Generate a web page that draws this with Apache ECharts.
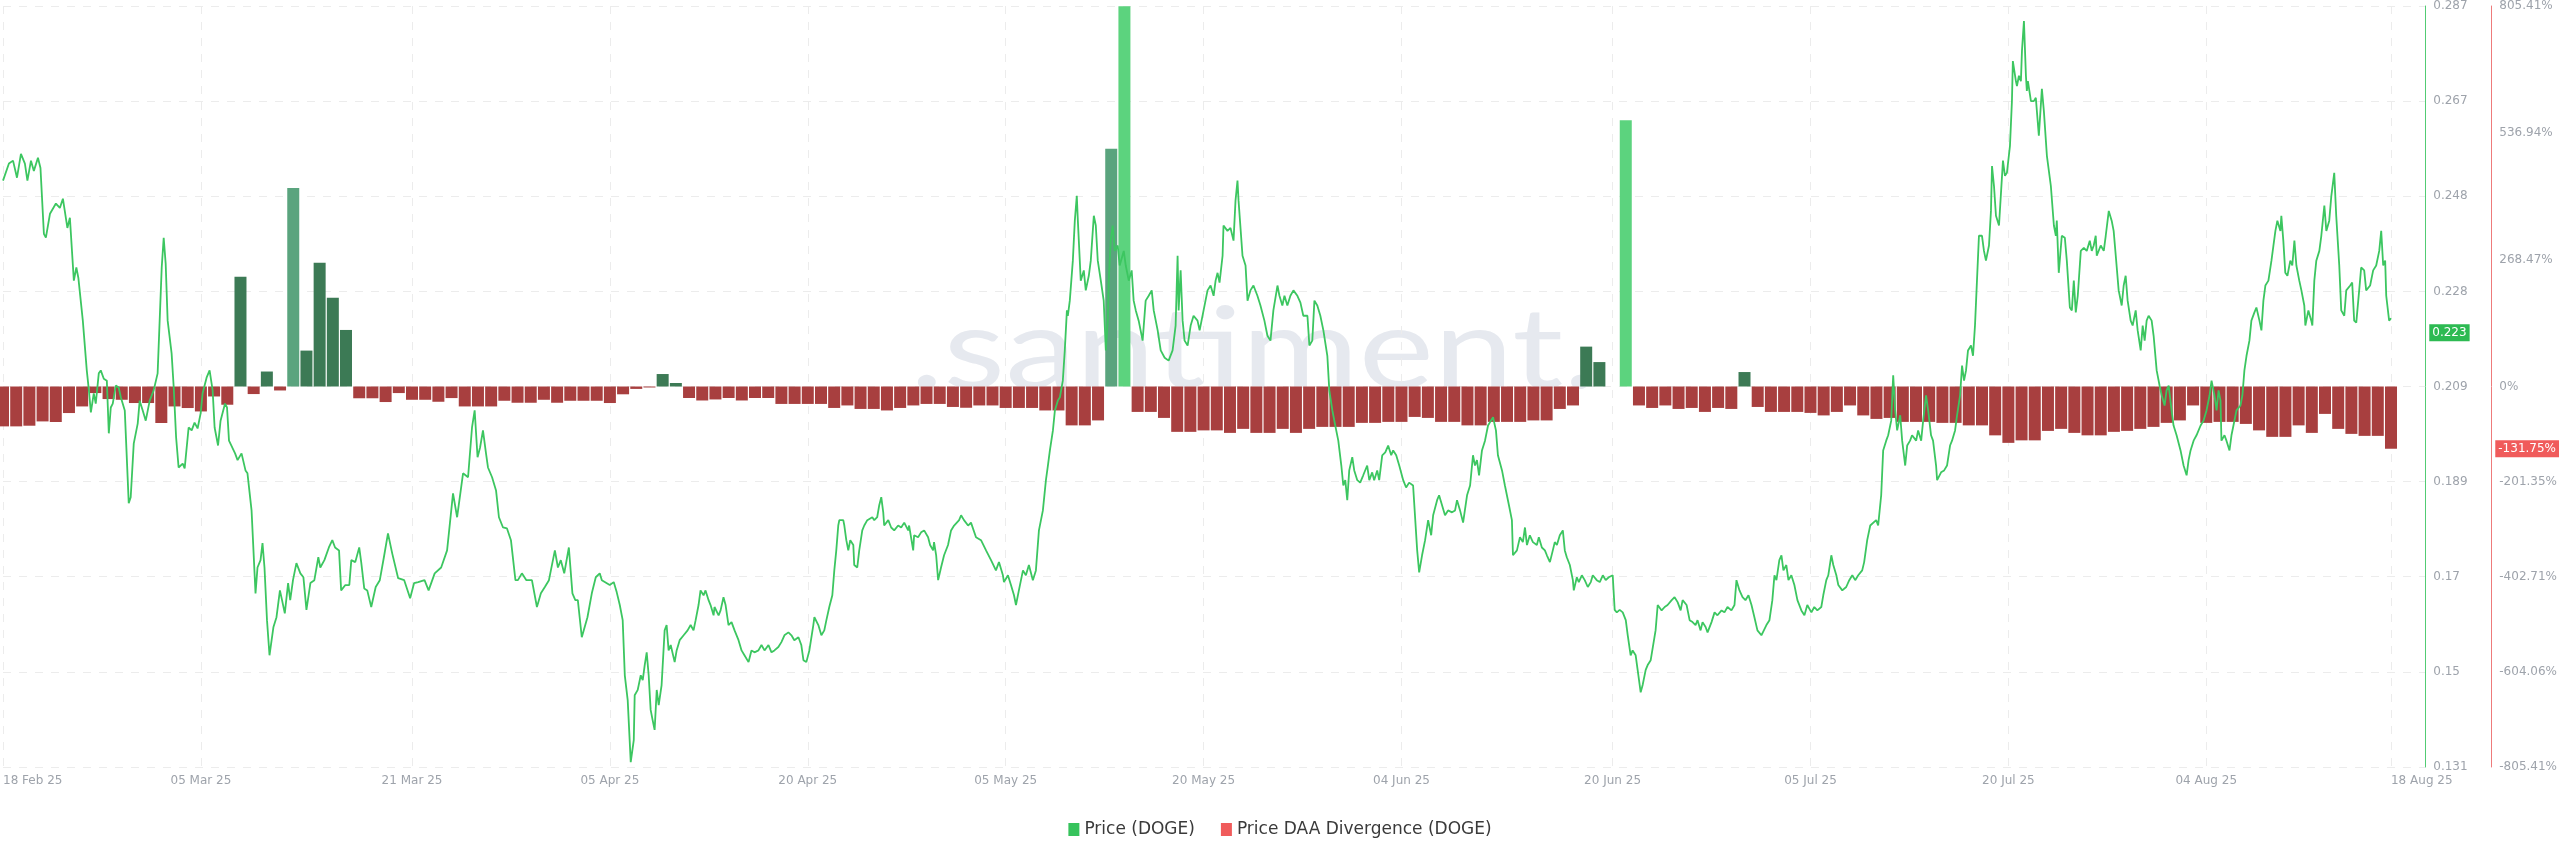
<!DOCTYPE html>
<html>
<head>
<meta charset="utf-8">
<script src="https://cdn.jsdelivr.net/npm/echarts@6/dist/echarts.min.js"></script>
<style>
html,body{margin:0;padding:0;background:#fff;}
#chart{width:2560px;height:853px;}
</style>
</head>
<body>
<div id="chart"></div>
<script>
// ---------- DATA ----------
const startDate = '2025-02-18';
const xLabelDates = ['2025-02-18','2025-03-05','2025-03-21','2025-04-05','2025-04-20','2025-05-05','2025-05-20','2025-06-04','2025-06-20','2025-07-05','2025-07-20','2025-08-04','2025-08-18'];

const priceTickValues = [0.131,0.1505,0.17,0.1895,0.209,0.2285,0.248,0.2675,0.287];
const priceTickLabels = ['0.131','0.15','0.17','0.189','0.209','0.228','0.248','0.267','0.287'];
const divTickValues = [-805.41,-604.06,-402.71,-201.35,0,268.47,536.94,805.41];
const divTickLabels = ['-805.41%','-604.06%','-402.71%','-201.35%','0%','268.47%','536.94%','805.41%'];

// Price (DOGE): days since 18 Feb 2025 and price in USD
const priceDays = [
0,0.45,0.76,1.06,1.36,1.66,1.85,2.12,2.34,2.65,
2.84,3.10,3.25,3.56,4.01,4.31,4.54,4.88,5.07,5.37,
5.56,5.71,6.05,6.35,6.51,6.66,6.88,7.03,7.26,7.41,
7.64,7.87,8.02,8.17,8.32,8.55,8.77,8.93,9.23,9.53,
9.68,9.91,10.21,10.36,10.59,10.82,11.12,11.42,11.72,12.03,
12.18,12.33,12.48,12.78,12.94,13.12,13.31,13.62,13.77,14.07,
14.30,14.52,14.75,14.98,15.13,15.43,15.66,15.89,16.04,16.30,
16.49,16.83,16.98,17.13,17.59,17.78,18.08,18.38,18.53,18.84,
19.14,19.29,19.52,19.67,19.82,20.01,20.20,20.50,20.73,20.99,
21.15,21.36,21.61,21.77,21.98,22.24,22.54,22.77,23.00,23.30,
23.60,23.90,24.05,24.36,24.70,24.96,25.17,25.47,25.63,25.95,
26.25,26.40,26.70,27.00,27.16,27.38,27.61,27.91,28.25,28.56,
28.87,29.18,29.50,29.95,30.41,30.86,31.16,31.47,31.95,32.26,
32.72,33.21,33.66,34.11,34.42,34.87,35.25,35.55,35.75,35.97,
36.16,36.38,36.61,36.76,37.07,37.37,37.59,37.90,38.20,38.50,
38.84,39.03,39.33,39.67,40.09,40.47,40.77,41.07,41.38,41.83,
42.06,42.28,42.54,42.89,43.16,43.38,43.57,43.87,44.30,44.63,
44.93,45.23,45.39,45.99,46.29,46.52,46.75,46.97,47.13,47.35,
47.58,47.81,47.88,48.11,48.34,48.49,48.64,48.79,48.94,49.09,
49.24,49.39,49.55,49.70,49.92,50.15,50.30,50.45,50.61,50.91,
51.06,51.29,51.59,51.89,52.12,52.34,52.50,52.72,52.87,53.10,
53.25,53.48,53.63,53.86,53.93,54.24,54.39,54.61,54.77,54.99,
55.22,55.45,55.75,55.98,56.20,56.51,56.73,56.96,57.26,57.49,
57.72,58.02,58.25,58.47,58.77,59.00,59.23,59.53,59.76,59.98,
60.29,60.51,60.67,60.89,61.12,61.42,61.50,61.80,62.03,62.25,
62.41,62.63,62.86,63.01,63.16,63.31,63.39,63.69,63.77,63.92,
64.07,64.22,64.45,64.52,64.75,64.90,65.13,65.28,65.51,65.89,
66.04,66.26,66.41,66.57,66.72,66.79,67.10,67.32,67.55,67.85,
68.08,68.31,68.61,68.68,68.99,69.06,69.36,69.59,69.82,70.12,
70.27,70.50,70.57,70.73,70.88,71.10,71.33,71.63,71.86,72.09,
72.47,72.62,72.84,73.15,73.37,73.75,74.13,74.51,74.89,75.26,
75.49,75.79,75.87,76.17,76.40,76.63,76.78,77.00,77.31,77.53,
77.76,78.06,78.29,78.52,78.82,79.05,79.20,79.35,79.58,79.73,
79.95,80.11,80.33,80.48,80.64,80.71,80.86,81.09,81.24,81.39,
81.47,81.69,81.92,82.07,82.30,82.45,82.68,82.83,82.98,83.21,
83.43,83.59,83.74,83.81,83.96,84.11,84.27,84.49,84.64,84.95,
85.10,85.33,85.55,85.70,85.86,86.08,86.38,86.61,86.84,87.07,
87.22,87.52,87.75,88.05,88.35,88.65,88.88,89.03,89.11,89.26,
89.41,89.56,89.79,90.02,90.24,90.54,90.70,91.00,91.30,91.53,
91.76,91.91,92.06,92.21,92.44,92.51,92.81,93.04,93.27,93.42,
93.57,93.65,93.95,94.18,94.33,94.55,94.78,95.08,95.31,95.61,
95.84,96.07,96.29,96.60,96.75,96.97,97.13,97.35,97.58,97.81,
98.11,98.34,98.56,98.87,99.02,99.24,99.40,99.62,99.85,100.08,
100.38,100.53,100.76,100.98,101.21,101.44,101.59,101.74,101.89,102.04,
102.27,102.42,102.65,102.87,103.10,103.40,103.56,103.78,103.93,104.16,
104.31,104.54,104.77,104.99,105.22,105.37,105.60,105.83,106.13,106.35,
106.58,106.88,107.19,107.34,107.56,107.79,108.02,108.25,108.40,108.70,
108.85,109.08,109.30,109.53,109.83,110.06,110.21,110.44,110.67,110.97,
111.20,111.42,111.57,111.72,111.88,112.10,112.33,112.56,112.78,112.94,
113.16,113.31,113.62,113.84,114.15,114.37,114.45,114.75,114.98,115.20,
115.36,115.51,115.73,115.96,116.26,116.41,116.64,116.87,117.02,117.25,
117.47,117.62,117.78,118.00,118.23,118.38,118.53,118.76,118.99,119.06,
119.29,119.44,119.67,119.89,120.12,120.35,120.50,120.80,121.03,121.26,
121.48,121.71,122.01,122.16,122.32,122.54,122.77,123.00,123.15,123.37,
123.52,123.75,123.90,124.13,124.28,124.51,124.66,124.89,125.04,125.26,
125.42,125.72,125.95,126.17,126.48,126.70,126.93,127.16,127.31,127.61,
127.84,128.06,128.29,128.44,128.67,128.82,129.05,129.20,129.50,129.73,
129.95,130.26,130.48,130.71,131.01,131.24,131.39,131.62,131.85,132.07,
132.30,132.53,132.75,132.98,133.28,133.43,133.66,133.89,134.11,134.27,
134.42,134.64,134.80,134.95,135.17,135.33,135.55,135.78,136.01,136.31,
136.54,136.76,137.07,137.29,137.52,137.82,137.97,138.20,138.35,138.58,
138.73,138.96,139.11,139.41,139.71,139.94,140.17,140.39,140.62,140.92,
141.07,141.30,141.53,141.68,141.98,142.13,142.36,142.51,142.74,142.89,
143.12,143.27,143.42,143.57,143.80,143.95,144.18,144.33,144.55,144.70,
145.01,145.16,145.39,145.54,145.76,145.92,146.14,146.29,146.52,146.60,
146.90,147.13,147.35,147.58,147.73,147.96,148.11,148.34,148.49,148.64,
148.79,148.94,149.17,149.32,149.47,149.62,149.77,150.00,150.15,150.30,
150.53,150.68,150.76,150.91,151.06,151.29,151.44,151.59,151.74,151.89,
152.12,152.27,152.34,152.57,152.65,152.80,152.95,153.03,153.18,153.33,
153.40,153.48,153.71,153.93,154.08,154.31,154.54,154.69,154.92,155.22,
155.45,155.60,155.67,155.82,156.05,156.28,156.43,156.66,156.81,156.96,
157.11,157.26,157.49,157.72,157.94,158.17,158.32,158.47,158.62,158.70,
159.00,159.23,159.38,159.61,159.83,159.98,160.14,160.36,160.59,160.74,
160.89,161.04,161.27,161.42,161.65,161.80,162.03,162.18,162.33,162.48,
162.63,162.86,163.01,163.24,163.46,163.62,163.84,163.99,164.15,164.37,
164.52,164.75,165.05,165.28,165.51,165.66,165.81,166.04,166.26,166.57,
166.79,167.02,167.25,167.40,167.62,167.78,167.93,168.08,168.15,168.38,
168.53,168.76,168.91,169.06,169.29,169.59,169.74,169.89,170.05,170.27,
170.42,170.65,170.80,171.03,171.18,171.33,171.48,171.71,171.94,172.09,
172.24,172.39,172.62,172.69,172.84,172.99,173.15,173.37,173.52,173.68,
173.83,174.05,174.21,174.43,174.51,174.74,174.96,175.04,175.19,175.34,
175.57,175.72,175.95,176.10,176.32,176.48,176.70,176.85,177.08,177.23,
177.46,177.61,177.91,178.06,178.21,178.37,178.59,178.74,178.97,179.12,
179.42,179.65,179.88,180.11,180.26,180.41,180.56,180.64,180.86,181.01
];
const priceValues = [
0.2512,0.2547,0.2553,0.2518,0.2567,0.2547,0.2512,0.2553,0.2532,0.2559,
0.2538,0.2403,0.2395,0.2444,0.2465,0.2456,0.2475,0.2415,0.2436,0.2307,
0.2334,0.2313,0.2225,0.2123,0.2082,0.2037,0.2076,0.2055,0.2117,0.2123,
0.2106,0.2102,0.1994,0.2047,0.2055,0.2092,0.2088,0.2068,0.2041,0.1851,
0.1863,0.1973,0.2014,0.2061,0.2041,0.2020,0.2061,0.2082,0.2117,0.2334,
0.2395,0.2342,0.2225,0.2158,0.2088,0.1986,0.1924,0.1932,0.1922,0.2006,
0.2000,0.2016,0.2004,0.2035,0.2076,0.2108,0.2123,0.2082,0.2006,0.1969,
0.2020,0.2055,0.2047,0.1979,0.1953,0.1939,0.1953,0.1918,0.1912,0.1836,
0.1666,0.1719,0.1734,0.1769,0.1719,0.1611,0.1539,0.1597,0.1617,0.1672,
0.1652,0.1625,0.1687,0.1652,0.1693,0.1728,0.1707,0.1699,0.1632,0.1687,
0.1693,0.1740,0.1719,0.1734,0.1760,0.1775,0.1760,0.1754,0.1672,0.1683,
0.1683,0.1734,0.1730,0.1760,0.1728,0.1676,0.1672,0.1638,0.1679,0.1693,
0.1740,0.1789,0.1748,0.1697,0.1693,0.1656,0.1687,0.1689,0.1693,0.1672,
0.1707,0.1719,0.1754,0.1871,0.1822,0.1912,0.1904,0.2006,0.2041,0.1945,
0.1965,0.2000,0.1953,0.1924,0.1904,0.1877,0.1822,0.1801,0.1799,0.1775,
0.1693,0.1693,0.1707,0.1693,0.1693,0.1638,0.1666,0.1679,0.1693,0.1754,
0.1719,0.1734,0.1707,0.1760,0.1666,0.1652,0.1652,0.1576,0.1617,0.1666,
0.1699,0.1707,0.1693,0.1683,0.1689,0.1668,0.1642,0.1611,0.1498,0.1447,
0.1320,0.1365,0.1457,0.1468,0.1498,0.1488,0.1519,0.1545,0.1498,0.1427,
0.1406,0.1386,0.1468,0.1437,0.1478,0.1590,0.1601,0.1549,0.1560,0.1525,
0.1549,0.1570,0.1580,0.1590,0.1601,0.1590,0.1611,0.1642,0.1672,0.1662,
0.1672,0.1652,0.1642,0.1621,0.1638,0.1621,0.1631,0.1658,0.1642,0.1601,
0.1607,0.1590,0.1570,0.1549,0.1539,0.1525,0.1549,0.1545,0.1549,0.1560,
0.1549,0.1560,0.1545,0.1549,0.1556,0.1566,0.1580,0.1586,0.1580,0.1570,
0.1576,0.1560,0.1529,0.1525,0.1549,0.1601,0.1617,0.1601,0.1580,0.1590,
0.1611,0.1638,0.1662,0.1713,0.1754,0.1805,0.1816,0.1816,0.1805,0.1775,
0.1754,0.1775,0.1765,0.1724,0.1719,0.1754,0.1795,0.1805,0.1816,0.1822,
0.1816,0.1822,0.1846,0.1863,0.1832,0.1805,0.1816,0.1801,0.1795,0.1805,
0.1801,0.1811,0.1795,0.1805,0.1754,0.1785,0.1781,0.1791,0.1795,0.1781,
0.1765,0.1754,0.1771,0.1744,0.1693,0.1719,0.1744,0.1765,0.1795,0.1805,
0.1816,0.1826,0.1816,0.1805,0.1811,0.1781,0.1775,0.1754,0.1734,0.1713,
0.1730,0.1703,0.1689,0.1703,0.1683,0.1662,0.1642,0.1672,0.1713,0.1703,
0.1724,0.1693,0.1713,0.1795,0.1836,0.1898,0.1928,0.1959,0.2000,0.2041,
0.2061,0.2068,0.2102,0.2164,0.2246,0.2235,0.2266,0.2348,0.2430,0.2481,
0.2430,0.2307,0.2328,0.2287,0.2317,0.2348,0.2440,0.2420,0.2348,0.2307,
0.2266,0.2164,0.2225,0.2307,0.2389,0.2420,0.2368,0.2379,0.2338,0.2368,
0.2338,0.2307,0.2328,0.2266,0.2246,0.2225,0.2184,0.2266,0.2276,0.2287,
0.2246,0.2205,0.2164,0.2149,0.2143,0.2164,0.2215,0.2358,0.2246,0.2328,
0.2225,0.2184,0.2174,0.2215,0.2235,0.2225,0.2205,0.2246,0.2287,0.2297,
0.2276,0.2307,0.2323,0.2303,0.2358,0.2420,0.2409,0.2415,0.2389,0.2471,
0.2512,0.2471,0.2358,0.2338,0.2266,0.2287,0.2297,0.2276,0.2256,0.2225,
0.2194,0.2184,0.2246,0.2297,0.2276,0.2256,0.2276,0.2256,0.2276,0.2287,
0.2276,0.2262,0.2235,0.2235,0.2174,0.2184,0.2266,0.2256,0.2235,0.2205,
0.2153,0.2082,0.2041,0.2010,0.1979,0.1928,0.1887,0.1898,0.1857,0.1918,
0.1945,0.1918,0.1898,0.1893,0.1908,0.1928,0.1898,0.1914,0.1898,0.1918,
0.1898,0.1949,0.1955,0.1969,0.1949,0.1959,0.1949,0.1928,0.1898,0.1883,
0.1893,0.1887,0.1754,0.1709,0.1744,0.1775,0.1816,0.1785,0.1826,0.1857,
0.1867,0.1846,0.1826,0.1836,0.1832,0.1836,0.1857,0.1836,0.1811,0.1867,
0.1887,0.1949,0.1928,0.1939,0.1908,0.1959,0.1979,0.2010,0.2020,0.2027,
0.2000,0.1949,0.1918,0.1887,0.1846,0.1816,0.1744,0.1754,0.1781,0.1771,
0.1801,0.1765,0.1785,0.1771,0.1765,0.1781,0.1760,0.1754,0.1744,0.1730,
0.1754,0.1771,0.1765,0.1785,0.1795,0.1754,0.1740,0.1724,0.1693,0.1672,
0.1699,0.1689,0.1703,0.1693,0.1679,0.1689,0.1703,0.1693,0.1689,0.1703,
0.1693,0.1699,0.1703,0.1632,0.1627,0.1632,0.1627,0.1611,0.1580,0.1539,
0.1549,0.1539,0.1509,0.1463,0.1478,0.1509,0.1519,0.1529,0.1525,0.1590,
0.1642,0.1631,0.1638,0.1642,0.1652,0.1658,0.1648,0.1631,0.1652,0.1642,
0.1611,0.1607,0.1601,0.1611,0.1590,0.1607,0.1597,0.1586,0.1607,0.1627,
0.1621,0.1631,0.1627,0.1638,0.1631,0.1642,0.1693,0.1672,0.1658,0.1652,
0.1662,0.1642,0.1617,0.1590,0.1580,0.1576,0.1601,0.1611,0.1652,0.1703,
0.1693,0.1734,0.1744,0.1713,0.1724,0.1693,0.1703,0.1683,0.1652,0.1631,
0.1621,0.1642,0.1627,0.1638,0.1631,0.1638,0.1662,0.1693,0.1703,0.1744,
0.1724,0.1703,0.1683,0.1672,0.1679,0.1693,0.1703,0.1693,0.1703,0.1713,
0.1730,0.1775,0.1805,0.1805,0.1816,0.1805,0.1867,0.1959,0.1979,0.1990,
0.2020,0.2113,0.2041,0.2000,0.2031,0.1979,0.1928,0.1969,0.1979,0.1990,
0.1979,0.2000,0.1979,0.2020,0.2072,0.2041,0.1990,0.1979,0.1928,0.1898,
0.1914,0.1918,0.1928,0.1969,0.1979,0.2000,0.2031,0.2072,0.2133,0.2102,
0.2123,0.2164,0.2174,0.2153,0.2215,0.2307,0.2399,0.2399,0.2368,0.2348,
0.2379,0.2450,0.2542,0.2501,0.2440,0.2420,0.2420,0.2553,0.2522,0.2528,
0.2583,0.2675,0.2757,0.2716,0.2706,0.2727,0.2716,0.2778,0.2839,0.2727,
0.2696,0.2716,0.2675,0.2675,0.2682,0.2604,0.2700,0.2655,0.2563,0.2501,
0.2420,0.2399,0.2430,0.2323,0.2399,0.2395,0.2348,0.2252,0.2246,0.2307,
0.2242,0.2276,0.2368,0.2374,0.2368,0.2389,0.2368,0.2379,0.2399,0.2358,
0.2379,0.2368,0.2399,0.2450,0.2430,0.2409,0.2358,0.2287,0.2256,0.2297,
0.2317,0.2266,0.2225,0.2215,0.2246,0.2205,0.2164,0.2215,0.2184,0.2225,
0.2235,0.2225,0.2194,0.2123,0.2092,0.2072,0.2051,0.2082,0.2092,0.2041,
0.2010,0.1990,0.1959,0.1928,0.1908,0.1939,0.1959,0.1979,0.1990,0.2010,
0.2020,0.2041,0.2072,0.2102,0.2072,0.2041,0.2082,0.2061,0.1979,0.1990,
0.1979,0.1959,0.1990,0.2010,0.2041,0.2051,0.2072,0.2123,0.2153,0.2184,
0.2225,0.2242,0.2252,0.2225,0.2205,0.2266,0.2297,0.2307,0.2348,0.2379,
0.2409,0.2430,0.2409,0.2440,0.2389,0.2323,0.2317,0.2348,0.2338,0.2389,
0.2338,0.2307,0.2287,0.2256,0.2215,0.2246,0.2225,0.2215,0.2307,0.2348,
0.2368,0.2399,0.2461,0.2409,0.2430,0.2481,0.2528,0.2440,0.2338,0.2246,
0.2235,0.2287,0.2297,0.2303,0.2225,0.2221,0.2287,0.2334,0.2328,0.2287,
0.2297,0.2328,0.2338,0.2368,0.2409,0.2338,0.2348,0.2276,0.2225,0.2230
];

// Price DAA Divergence (DOGE): one value per day from 18 Feb 2025 (%)
const divValues = [
-84.4,-84.4,-83,-73.9,-75.2,-56.2,-42.2,-13.9,-26.6,-28.1,
-35,-35,-77.3,-42.2,-45.6,-52.8,-21.1,-38.6,232.2,-16,
31.7,-8.4,420.1,76,261.8,187.9,119.7,-24.9,-24.9,-32.9,
-13.9,-28.1,-28.1,-32.3,-24.5,-42.2,-42.2,-42.2,-30.2,-34.4,
-34.4,-28.1,-34.4,-30.2,-30.2,-30.2,-35,-16.5,-5.1,-2.1,
26.4,7.4,-24.3,-29.6,-27.4,-24.3,-29.6,-24.3,-24.3,-36.9,
-36.9,-36.9,-36.9,-45.4,-40.1,-47.5,-47.5,-50.7,-45.4,-40.1,
-36.9,-36.9,-43.3,-45,-40.1,-40.1,-45.4,-45.4,-45.4,-50.7,
-50.7,-82.3,-82.3,-71.8,503.5,805,-53.8,-53.8,-66.5,-96,
-96,-92.9,-92.9,-98.2,-89.7,-98.2,-98.2,-89.7,-98.2,-89.7,
-85.5,-85.5,-85.5,-77,-77,-74.9,-74.9,-64.4,-66.5,-74.9,
-74.9,-82.3,-82.3,-74.9,-74.9,-74.9,-71.8,-71.8,-47.5,-40.1,
84.4,51.7,0,563.6,-40.1,-45.4,-40.1,-47.5,-45.4,-53.8,
-45.4,-47.5,30.6,-43.3,-53.8,-53.8,-53.8,-55.9,-61.2,-53.8,
-40.1,-61.2,-68.6,-66.5,-74.9,-74.9,-74.9,-77,-77,-82.3,
-82.3,-103.4,-119.3,-114,-114,-94,-89.7,-98.2,-103.4,-103.4,
-96,-93.9,-89.7,-85.5,-77,-71.8,-40.1,-77,-74.9,-74.9,
-79.2,-92.9,-106.6,-106.6,-82.3,-98.2,-58,-89.7,-100.3,-104.5,
-104.5,-131.75
];

// ---------- BUILD ----------
const DAY = 86400000;
const START = Date.parse(startDate);
const monthNames = ['Jan','Feb','Mar','Apr','May','Jun','Jul','Aug','Sep','Oct','Nov','Dec'];
function fmtDate(v){
  const d = new Date(v);
  return String(d.getUTCDate()).padStart(2,'0') + ' ' + monthNames[d.getUTCMonth()] + ' ' + String(d.getUTCFullYear()).slice(2);
}
const xLabelTimes = xLabelDates.map(s => Date.parse(s));
const priceData = priceDays.map((d,i) => [START + d*DAY, priceValues[i]]);
const divData = divValues.map((v,i) => [START + i*DAY, v]);
const lastPrice = priceValues[priceValues.length-1];
const lastDiv = divValues[divValues.length-1];

const C_LINE = '#3cc660';
const C_RED = '#a83f3f';
const C_DARK = '#3c7a55';
const C_MID = '#5aa47e';
const C_BRIGHT = '#5cd37e';
const C_LABEL = '#9ea3ab';
const FONT = 'DejaVu Sans';
const HIDDEN_LINE = { color: 'rgba(0,0,0,0)', width: 0 };

const chart = echarts.init(document.getElementById('chart'), null, {renderer:'canvas'});
chart.setOption({
  animation: false,
  backgroundColor: '#ffffff',
  grid: { left: 0, right: 133, top: 5, bottom: 86, containLabel: false },
  graphic: [{
    type: 'text', x: 910, y: 352, z: -10, silent: true,
    scaleX: 1.27, scaleY: 1,
    style: { text: '.santiment.', font: '112px Lato', fill: '#e6e9ef', textAlign: 'left', textVerticalAlign: 'middle' }
  }],
  legend: {
    bottom: 10, left: 'center', icon: 'rect', itemWidth: 11, itemHeight: 13, itemGap: 26,
    textStyle: { fontSize: 17, color: '#3a3a3a', fontFamily: FONT },
    data: [
      { name: 'Price (DOGE)', itemStyle: { color: '#36c35c' } },
      { name: 'Price DAA Divergence (DOGE)', itemStyle: { color: '#f05b5b' } }
    ]
  },
  xAxis: {
    type: 'value',
    min: START, max: START + 183.6*DAY,
    axisLine: { show: false },
    axisTick: { show: false, customValues: xLabelTimes },
    axisLabel: {
      customValues: xLabelTimes, formatter: fmtDate,
      color: C_LABEL, fontSize: 12, fontFamily: FONT, margin: 8,
      showMinLabel: true, showMaxLabel: true, hideOverlap: false,
      alignMinLabel: 'left', alignMaxLabel: 'left'
    },
    splitLine: { show: true, lineStyle: { color: '#ececec', type: [8, 8], width: 1 } }
  },
  yAxis: [{
    type: 'value', position: 'right', min: 0.131, max: 0.287,
    axisLine: { show: true, lineStyle: { color: '#52cc74', width: 1 } },
    axisTick: { show: false, customValues: priceTickValues },
    axisLabel: {
      customValues: priceTickValues, color: C_LABEL, fontSize: 12, fontFamily: FONT, margin: 8,
      formatter: v => { const i = priceTickValues.findIndex(t => Math.abs(t - v) < 1e-6); return i >= 0 ? priceTickLabels[i] : ''; }
    },
    splitLine: { show: true, lineStyle: { color: '#ececec', type: [8, 8], width: 1 } }
  }, {
    type: 'value', position: 'right', offset: 66, min: -805.41, max: 805.41,
    axisLine: { show: true, lineStyle: { color: '#ee7b7b', width: 1 } },
    axisTick: { show: false, customValues: divTickValues },
    axisLabel: {
      customValues: divTickValues, color: C_LABEL, fontSize: 12, fontFamily: FONT, margin: 8,
      formatter: v => { const i = divTickValues.findIndex(t => Math.abs(t - v) < 1e-6); return i >= 0 ? divTickLabels[i] : ''; }
    },
    splitLine: { show: false }
  }],
  series: [{
    name: 'Price DAA Divergence (DOGE)',
    type: 'bar', yAxisIndex: 1, barWidth: 12, z: 1,
    data: divData,
    itemStyle: {
      color: p => { const v = p.value[1]; if (v < 0) return C_RED; if (v >= 550) return C_BRIGHT; if (v >= 400) return C_MID; return C_DARK; }
    },
    markLine: {
      silent: true, symbol: ['none', 'none'], animation: false,
      lineStyle: HIDDEN_LINE,
      data: [{ yAxis: lastDiv }],
      label: {
        show: true, position: 'end', distance: 70, color: '#fff', backgroundColor: '#f05b5b',
        padding: [3, 3, 2, 3], fontSize: 12, fontFamily: FONT,
        formatter: () => lastDiv.toFixed(2) + '%'
      }
    }
  }, {
    name: 'Price (DOGE)',
    type: 'line', yAxisIndex: 0, z: 3,
    showSymbol: false, symbol: 'none',
    data: priceData,
    lineStyle: { color: C_LINE, width: 1.8 },
    itemStyle: { color: C_LINE },
    markLine: {
      silent: true, symbol: ['none', 'none'], animation: false,
      lineStyle: HIDDEN_LINE,
      data: [{ yAxis: lastPrice }],
      label: {
        show: true, position: 'end', distance: 4, color: '#fff', backgroundColor: '#2dba52',
        padding: [3, 3, 2, 3], fontSize: 12, fontFamily: FONT,
        formatter: () => lastPrice.toFixed(3)
      }
    }
  }]
});
</script>
</body>
</html>
